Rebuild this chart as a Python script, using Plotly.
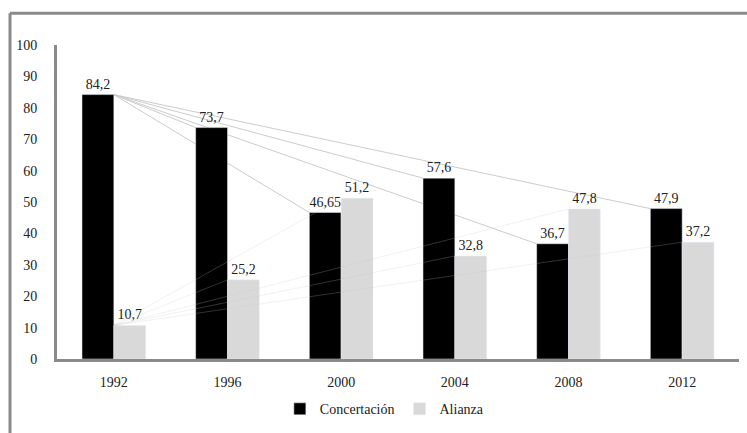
import plotly.graph_objects as go

years = ["1992", "1996", "2000", "2004", "2008", "2012"]
concertacion = [84.2, 73.7, 46.65, 57.6, 36.7, 47.9]
alianza = [10.7, 25.2, 51.2, 32.8, 47.8, 37.2]
y_ticks = [0, 10, 20, 30, 40, 50, 60, 70, 80, 90, 100]

FONT = "Liberation Serif"
BARGAP = 0.44
bw = (1 - BARGAP) / 2
xs = list(range(len(years)))

def lab(v):
    return str(v).replace(".", ",")

fig = go.Figure()
fig.add_trace(go.Bar(
    x=xs, y=concertacion, name="Concertación",
    marker=dict(color="#000000"),
    text=[lab(v) for v in concertacion], textposition="outside", constraintext="none",
    textfont=dict(family=FONT, size=14, color="#222"), cliponaxis=False,
))
fig.add_trace(go.Bar(
    x=xs, y=alianza, name="Alianza",
    marker=dict(color="#d9d9d9"),
    text=[lab(v) for v in alianza], textposition="outside", constraintext="none",
    textfont=dict(family=FONT, size=14, color="#222"), cliponaxis=False,
))

shapes = []
for i in range(1, len(years)):
    shapes.append(dict(type="line", xref="x", yref="y", layer="below",
                       x0=xs[0], y0=concertacion[0], x1=xs[i] - bw, y1=concertacion[i],
                       line=dict(color="#cccccc", width=1)))
for i in range(1, len(years)):
    shapes.append(dict(type="line", xref="x", yref="y", layer="above",
                       x0=xs[0], y0=alianza[0], x1=xs[i], y1=alianza[i],
                       line=dict(color="rgba(200,200,200,0.25)", width=1)))
shapes.append(dict(type="line", xref="paper", yref="paper",
                   x0=(10 - 57) / 682, x1=1.02, y0=(362 - 13) / 317, y1=(362 - 13) / 317,
                   line=dict(color="#8a8a8a", width=3)))
shapes.append(dict(type="line", xref="paper", yref="paper",
                   x0=(10 - 57) / 682, x1=(10 - 57) / 682, y0=(362 - 13) / 317, y1=-0.3,
                   line=dict(color="#8a8a8a", width=3)))

fig.update_layout(
    width=747, height=433,
    margin=dict(l=57, r=8, t=45, b=71),
    paper_bgcolor="white", plot_bgcolor="white",
    barmode="group", bargap=BARGAP, bargroupgap=0,
    font=dict(family=FONT, size=14, color="#222"),
    shapes=shapes,
    showlegend=True,
    legend=dict(orientation="h", x=0.48, xanchor="center", y=-0.16, yanchor="middle",
                font=dict(family=FONT, size=14, color="#222"), itemwidth=30),
    xaxis=dict(range=[-0.5, 5.5], tickmode="array", tickvals=xs, ticktext=years,
               showline=True, linecolor="#8a8a8a", linewidth=3, ticks="",
               showgrid=False, zeroline=False, ticklabelstandoff=8,
               tickfont=dict(family=FONT, size=14, color="#222")),
    yaxis=dict(range=[0, 100], tickmode="array", tickvals=y_ticks,
               showline=True, linecolor="#8a8a8a", linewidth=3, ticks="",
               showgrid=False, zeroline=False, ticklabelstandoff=14,
               tickfont=dict(family=FONT, size=14, color="#222")),
)

fig.write_html("out.html")
